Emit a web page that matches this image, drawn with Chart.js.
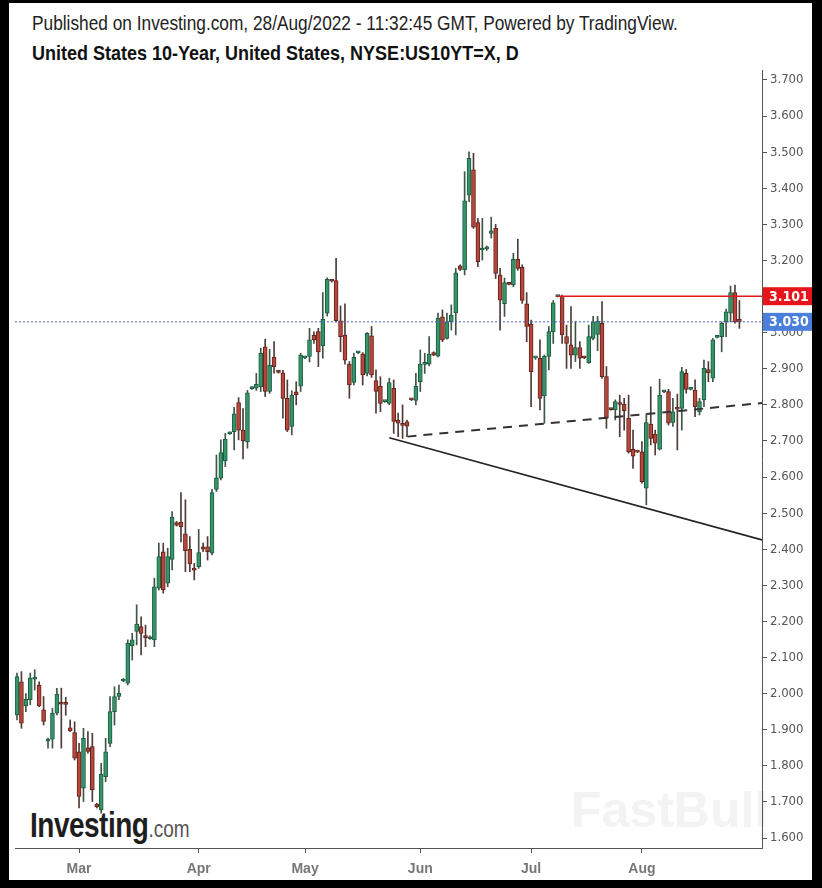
<!DOCTYPE html>
<html>
<head>
<meta charset="utf-8">
<script src="https://cdn.jsdelivr.net/npm/chart.js@4.4.1/dist/chart.umd.min.js"></script>
<style>
    html, body { margin: 0; padding: 0; background: #000; width: 822px; height: 888px; overflow: hidden; }
    #sheet { position: absolute; left: 9px; top: 3px; width: 803px; height: 877px; background: #fff; }
    .t { position: absolute; white-space: nowrap; font-family: "Liberation Sans", Arial, sans-serif; transform-origin: 0 0; }
    #pub { left: 23px; top: 9px; font-size: 17.3px; color: #222; transform: scaleY(1.15); }
    #ttl { left: 23px; top: 39px; font-size: 18px; font-weight: bold; color: #111; transform: scaleY(1.15); }
    #wm { left: 562px; top: 778px; font-size: 50px; font-weight: bold; color: #f3f3f3; }
    #logo { left: 21px; top: 803px; font-size: 28px; font-weight: bold; color: #1e1e1e; letter-spacing: -0.5px; transform: scaleY(1.25); }
    #logo span { font-size: 19px; font-weight: normal; color: #555; letter-spacing: 0; }
    #wrap { position: absolute; left: 0; top: 0; width: 822px; height: 888px; }
</style>
</head>
<body>
<div id="sheet">
    <div class="t" id="pub">Published on Investing.com, 28/Aug/2022 - 11:32:45 GMT, Powered by TradingView.</div>
    <div class="t" id="ttl">United States 10-Year, United States, NYSE:US10YT=X, D</div>
    <div class="t" id="wm">FastBull</div>
    <div class="t" id="logo">Investing<span>.com</span></div>
</div>
<div id="wrap"><canvas id="chart" width="822" height="888"></canvas></div>
<script>
// daily bars, Feb 10 - Aug 26 2022 (feed also has the short Sunday bars)
const openV = [
    1.941, 2.033, 1.966, 1.983, 2.040, 2.024, 1.955, 1.868, 1.874, 1.946,
    1.973, 1.972, 1.905, 1.892, 1.839, 1.738, 1.850, 1.853, 1.694, 1.678,
    1.770, 1.862, 1.950, 1.992, 2.035, 2.029, 2.132, 2.172, 2.186, 2.158,
    2.152, 2.149, 2.292, 2.393, 2.306, 2.372, 2.474, 2.475, 2.443, 2.400,
    2.345, 2.352, 2.407, 2.407, 2.389, 2.566, 2.597, 2.645, 2.720, 2.726,
    2.806, 2.730, 2.697, 2.845, 2.846, 2.850, 2.961, 2.837, 2.932, 2.893,
    2.889, 2.818, 2.740, 2.836, 2.852, 2.930, 2.934, 2.993, 3.003, 2.964,
    3.054, 3.144, 3.144, 3.033, 2.993, 2.913, 2.862, 2.944, 2.941, 2.887,
    2.991, 2.867, 2.851, 2.809, 2.804, 2.846, 2.758, 2.745, 2.753, 2.815,
    2.812, 2.864, 2.912, 2.913, 2.945, 2.935, 3.044, 2.984, 3.030, 3.055,
    3.185, 3.174, 3.381, 3.451, 3.305, 3.229, 3.232, 3.275, 3.289, 3.160,
    3.080, 3.135, 3.132, 3.203, 3.181, 3.080, 3.024, 2.930, 2.929, 2.825,
    2.934, 3.003, 3.100, 3.101, 2.989, 2.966, 2.938, 2.959, 2.931, 2.917,
    2.984, 2.995, 3.026, 2.878, 2.788, 2.786, 2.804, 2.802, 2.763, 2.677,
    2.670, 2.670, 2.569, 2.747, 2.719, 2.677, 2.836, 2.837, 2.751, 2.790,
    2.790, 2.887, 2.843, 2.841, 2.781, 2.814, 2.898, 2.874, 2.987, 2.989,
    3.030, 3.054, 3.111, 3.037
];
const highV = [
    2.057, 2.061, 2.000, 2.057, 2.066, 2.033, 1.992, 1.877, 1.959, 2.015,
    2.015, 1.990, 1.927, 1.922, 1.862, 1.904, 1.895, 1.890, 1.696, 1.807,
    1.876, 1.992, 2.019, 2.024, 2.042, 2.149, 2.167, 2.246, 2.213, 2.190,
    2.160, 2.320, 2.417, 2.417, 2.403, 2.504, 2.477, 2.557, 2.537, 2.435,
    2.361, 2.455, 2.417, 2.435, 2.566, 2.661, 2.703, 2.721, 2.725, 2.793,
    2.820, 2.790, 2.840, 2.850, 2.887, 2.957, 2.982, 2.954, 2.975, 2.895,
    2.896, 2.869, 2.839, 2.864, 2.943, 2.934, 3.012, 3.002, 3.012, 3.111,
    3.152, 3.147, 3.206, 3.074, 3.080, 2.920, 2.943, 2.947, 2.945, 3.000,
    3.017, 2.897, 2.878, 2.811, 2.874, 2.869, 2.777, 2.800, 2.758, 2.817,
    2.887, 2.952, 2.943, 2.989, 2.947, 3.054, 3.063, 3.054, 3.077, 3.178,
    3.188, 3.446, 3.501, 3.497, 3.317, 3.317, 3.240, 3.320, 3.300, 3.178,
    3.151, 3.137, 3.220, 3.259, 3.188, 3.111, 3.035, 2.933, 2.980, 2.938,
    3.017, 3.089, 3.103, 3.104, 3.021, 3.072, 3.031, 2.975, 2.933, 3.021,
    3.045, 3.045, 3.086, 2.906, 2.790, 2.814, 2.827, 2.818, 2.827, 2.730,
    2.672, 2.698, 2.775, 2.850, 2.730, 2.871, 2.839, 2.843, 2.818, 2.830,
    2.904, 2.898, 2.845, 2.869, 2.818, 2.924, 2.920, 2.984, 2.990, 3.030,
    3.065, 3.129, 3.132, 3.089
];
const lowV = [
    1.927, 1.904, 1.950, 1.969, 2.010, 1.964, 1.913, 1.849, 1.849, 1.941,
    1.849, 1.940, 1.895, 1.816, 1.683, 1.701, 1.835, 1.701, 1.683, 1.669,
    1.756, 1.853, 1.913, 1.983, 2.033, 2.024, 2.093, 2.135, 2.107, 2.130,
    2.150, 2.130, 2.287, 2.278, 2.296, 2.343, 2.464, 2.420, 2.338, 2.338,
    2.315, 2.347, 2.393, 2.370, 2.384, 2.560, 2.592, 2.629, 2.718, 2.675,
    2.703, 2.650, 2.680, 2.843, 2.840, 2.837, 2.823, 2.832, 2.888, 2.888,
    2.763, 2.726, 2.717, 2.800, 2.837, 2.928, 2.919, 2.970, 2.906, 2.929,
    3.046, 3.140, 3.030, 2.947, 2.913, 2.818, 2.855, 2.942, 2.855, 2.880,
    2.876, 2.777, 2.781, 2.807, 2.800, 2.721, 2.712, 2.707, 2.712, 2.812,
    2.800, 2.837, 2.887, 2.908, 2.936, 2.933, 2.975, 2.982, 3.007, 2.994,
    3.172, 3.160, 3.363, 3.289, 3.183, 3.201, 3.228, 3.262, 3.150, 3.007,
    3.045, 3.132, 3.127, 3.173, 3.081, 2.975, 2.795, 2.926, 2.786, 2.749,
    2.897, 2.970, 3.099, 2.970, 2.901, 2.901, 2.920, 2.901, 2.928, 2.915,
    2.980, 2.950, 2.873, 2.735, 2.785, 2.758, 2.712, 2.730, 2.666, 2.624,
    2.668, 2.583, 2.523, 2.689, 2.661, 2.675, 2.834, 2.744, 2.740, 2.675,
    2.730, 2.832, 2.841, 2.767, 2.772, 2.795, 2.864, 2.864, 2.985, 2.947,
    2.989, 3.030, 3.026, 3.012
];
const closeV = [
    2.047, 1.918, 1.984, 2.043, 2.042, 1.966, 1.923, 1.874, 1.946, 1.999,
    1.971, 1.970, 1.897, 1.821, 1.715, 1.876, 1.840, 1.733, 1.686, 1.777,
    1.839, 1.950, 1.992, 2.001, 2.040, 2.140, 2.149, 2.193, 2.167, 2.155,
    2.156, 2.296, 2.380, 2.287, 2.380, 2.489, 2.467, 2.462, 2.396, 2.359,
    2.342, 2.391, 2.400, 2.393, 2.557, 2.598, 2.668, 2.705, 2.722, 2.775,
    2.730, 2.700, 2.833, 2.848, 2.857, 2.943, 2.837, 2.910, 2.906, 2.890,
    2.818, 2.730, 2.827, 2.828, 2.938, 2.932, 2.980, 2.980, 2.947, 3.037,
    3.148, 3.143, 3.033, 2.989, 2.924, 2.855, 2.932, 2.945, 2.883, 2.998,
    2.883, 2.837, 2.804, 2.810, 2.862, 2.754, 2.749, 2.743, 2.741, 2.814,
    2.851, 2.913, 2.914, 2.941, 2.938, 3.040, 2.980, 3.030, 3.049, 3.166,
    3.175, 3.365, 3.483, 3.292, 3.197, 3.233, 3.236, 3.282, 3.164, 3.090,
    3.139, 3.134, 3.203, 3.178, 3.089, 3.017, 2.892, 2.932, 2.818, 2.935,
    3.003, 3.083, 3.101, 2.994, 2.970, 2.938, 2.959, 2.929, 2.930, 2.989,
    3.030, 3.032, 2.878, 2.763, 2.787, 2.809, 2.801, 2.784, 2.670, 2.658,
    2.669, 2.587, 2.751, 2.707, 2.694, 2.827, 2.837, 2.749, 2.781, 2.788,
    2.892, 2.843, 2.844, 2.795, 2.809, 2.901, 2.889, 2.980, 2.988, 3.026,
    3.058, 3.111, 3.030, 3.030
];

// bar index of the first bar of each month, and its label
const monthIdx = [14, 41, 65, 91, 116, 141];
const monthNames = ['Mar', 'Apr', 'May', 'Jun', 'Jul', 'Aug'];
const priceTicks = [1.6, 1.7, 1.8, 1.9, 2.0, 2.1, 2.2, 2.3, 2.4, 2.5, 2.6, 2.7, 2.8, 2.9, 3.0, 3.1, 3.2, 3.3, 3.4, 3.5, 3.6, 3.7];

// drawn lines (bar index, yield)
const supportLine = [{ x: 84, y: 2.709 }, { x: 168.1, y: 2.426 }];
const risingLine = [{ x: 88.1, y: 2.712 }, { x: 168.1, y: 2.805 }];
const resistance = 3.101;
const lastPrice = 3.030;

const xMin = -0.45;
const xMax = 168.1;

const upColor = '#35946a';
const upEdge = '#1f5a3d';
const downColor = '#b9463b';
const downEdge = '#5e231c';

const idx = openV.map((v, i) => i);
const isUp = idx.map(i => closeV[i] >= openV[i]);

const priceTags = {
    id: 'priceTags',
    afterDraw(chart) {
        const ctx = chart.ctx;
        const y = chart.scales.y;
        const left = chart.chartArea.right + 1;
        const tags = [[resistance, '#e8141c'], [lastPrice, '#4b7fdc']];
        ctx.save();
        tags.forEach(([v, col]) => {
            const py = y.getPixelForValue(v);
            ctx.fillStyle = col;
            ctx.fillRect(left, py - 9, 49, 18);
            ctx.fillStyle = '#fff';
            ctx.font = 'bold 14px "DejaVu Sans Condensed", "DejaVu Sans", sans-serif';
            ctx.textBaseline = 'middle';
            ctx.textAlign = 'left';
            ctx.fillText(v.toFixed(3), left + 6, py + 1);
        });
        ctx.restore();
    }
};

const ctx = document.getElementById('chart').getContext('2d');
new Chart(ctx, {
    type: 'bar',
    data: {
        datasets: [
            {
                type: 'line',
                data: [{ x: xMin, y: lastPrice }, { x: xMax, y: lastPrice }],
                borderColor: '#4466b8',
                borderWidth: 1,
                borderDash: [2, 2],
                pointRadius: 0,
                order: 0
            },
            {
                type: 'line',
                data: [{ x: 121.9, y: resistance }, { x: xMax, y: resistance }],
                borderColor: '#e01b1b',
                borderWidth: 1.5,
                pointRadius: 0,
                order: 0
            },
            {
                type: 'line',
                data: supportLine,
                borderColor: '#222',
                borderWidth: 1.6,
                pointRadius: 0,
                order: 0
            },
            {
                type: 'line',
                data: risingLine,
                borderColor: '#333',
                borderWidth: 2,
                borderDash: [9, 7],
                pointRadius: 0,
                order: 0
            },
            {
                data: idx.map(i => ({ x: i, y: [openV[i], closeV[i]] })),
                backgroundColor: idx.map(i => isUp[i] ? upColor : downColor),
                borderColor: idx.map(i => isUp[i] ? upEdge : downEdge),
                borderWidth: 1,
                borderSkipped: false,
                barThickness: 4,
                minBarLength: 2,
                grouped: false,
                order: 1
            },
            {
                data: idx.map(i => ({ x: i, y: [lowV[i], highV[i]] })),
                backgroundColor: idx.map(i => isUp[i] ? '#3d5446' : '#4f3a36'),
                borderWidth: 0,
                barThickness: 1,
                grouped: false,
                order: 2
            }
        ]
    },
    options: {
        responsive: false,
        animation: false,
        layout: { padding: { left: 15, right: 10, top: 70, bottom: 10 } },
        plugins: { legend: { display: false }, tooltip: { enabled: false } },
        scales: {
            x: {
                type: 'linear',
                offset: false,
                min: xMin,
                max: xMax,
                afterBuildTicks: (scale) => { scale.ticks = monthIdx.map(v => ({ value: v })); },
                afterFit: (scale) => { scale.height = 30; },
                grid: { offset: false, drawOnChartArea: false, drawTicks: true, tickLength: 5, color: '#555' },
                border: { color: '#555', width: 1 },
                ticks: {
                    autoSkip: false,
                    maxRotation: 0,
                    padding: 8,
                    color: '#777',
                    font: { family: '"Liberation Sans", Arial, sans-serif', size: 14, weight: 'bold' },
                    callback: (v) => monthNames[monthIdx.indexOf(v)] || ''
                }
            },
            y: {
                position: 'right',
                min: 1.5723,
                max: 3.7277,
                afterBuildTicks: (scale) => { scale.ticks = priceTicks.map(v => ({ value: v })); },
                afterFit: (scale) => { scale.width = 50; },
                grid: { drawOnChartArea: false, drawTicks: true, tickLength: 5, color: '#555' },
                border: { color: '#555', width: 1 },
                ticks: {
                    padding: 3,
                    color: '#555',
                    font: { family: '"DejaVu Sans Condensed", "DejaVu Sans", sans-serif', size: 13 },
                    callback: (v) => v.toFixed(3)
                }
            }
        }
    },
    plugins: [priceTags]
});
</script>
</body>
</html>
